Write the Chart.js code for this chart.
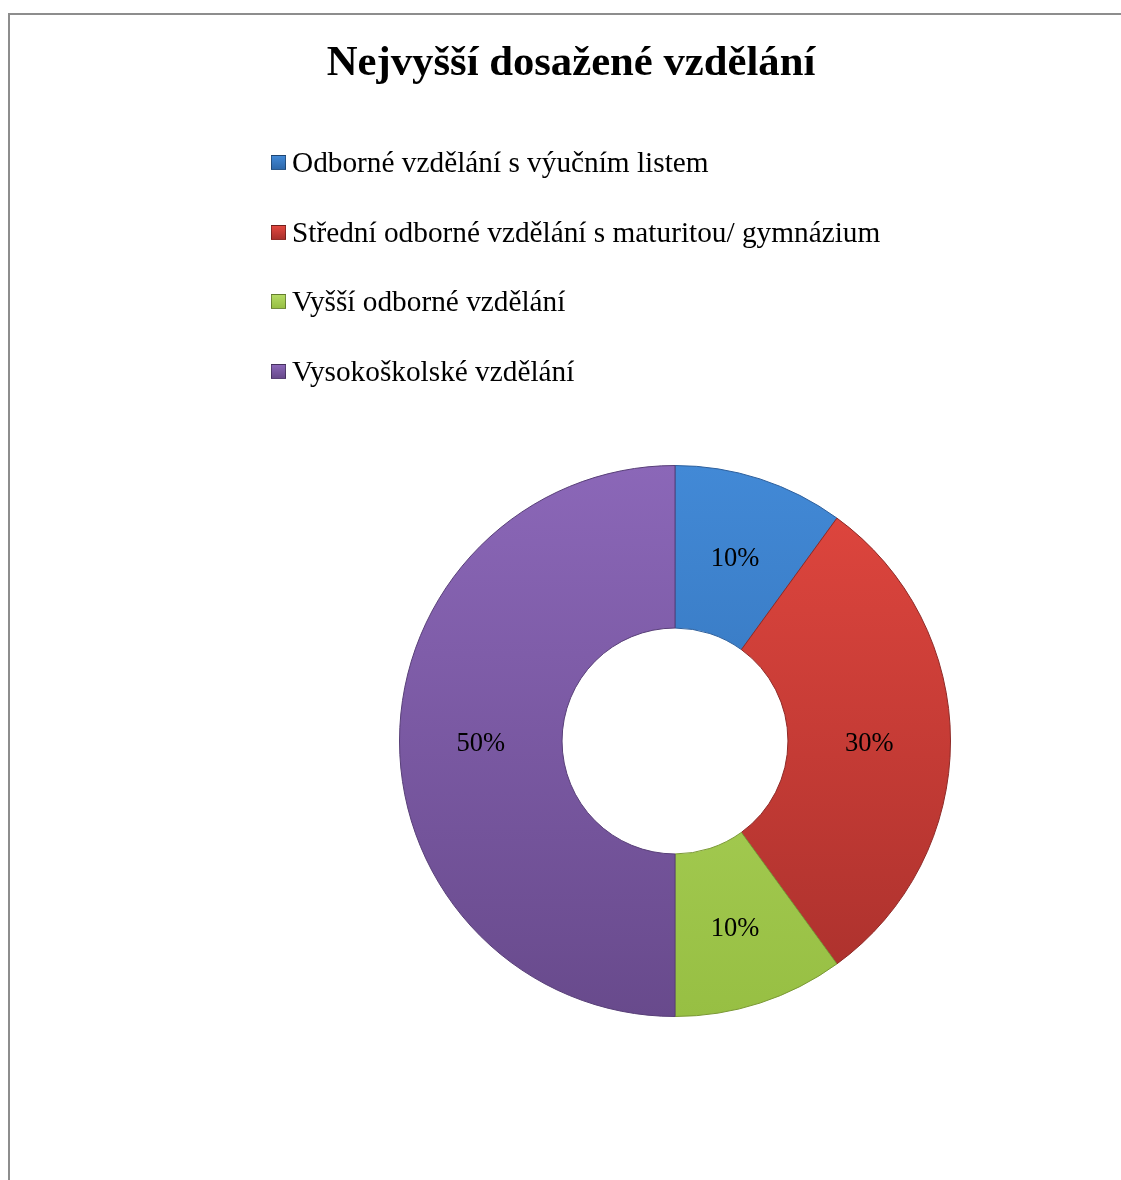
<!DOCTYPE html>
<html>
<head>
<meta charset="utf-8">
<script src="https://cdn.jsdelivr.net/npm/chart.js@4"></script>
<style>
  body { margin: 0; background: #fff; font-family: "Liberation Serif", "Times New Roman", serif; }
  #wrap { position: relative; width: 1121px; height: 1180px; overflow: hidden; }
  #ramecek { position: absolute; left: 8px; top: 13px; width: 1200px; height: 1300px;
    border-left: 2px solid #8d8d8d; border-top: 2px solid #8d8d8d; }
  #titulek { position: absolute; left: 0; width: 1142px; top: 38px; text-align: center;
    font-weight: bold; font-size: 42.7px; line-height: 1.1; color: #000; }
  #legenda { position: absolute; left: 271px; top: 143px; }
  .polozka { display: flex; align-items: center; height: 69.5px; font-size: 29.3px; color: #000; }
  .polozka span.box { width: 15px; height: 15px; margin-right: 6px; box-sizing: border-box; border: 1px solid rgba(0,0,0,0.35); }
  .polozka .radek { line-height: 1; margin-top: -30px; display: flex; align-items: center; }
  canvas { position: absolute; left: 0; top: 0; }
</style>
</head>
<body>
<div id="wrap">
  <div id="ramecek"></div>
  <canvas id="graf" width="1121" height="1180"></canvas>
  <div id="titulek">Nejvyšší dosažené vzdělání</div>
  <div id="legenda"></div>
</div>
<script>
// data
const kategorie = [
  "Odborné vzdělání s výučním listem",
  "Střední odborné vzdělání s maturitou/ gymnázium",
  "Vyšší odborné vzdělání",
  "Vysokoškolské vzdělání"
];
const hodnoty = [10, 30, 10, 50];
const barvySvetle = ["#4289d6", "#e2473f", "#b4da64", "#8b67b8"];
const barvyTmave = ["#2d68ab", "#a9302c", "#97bf43", "#684a8c"];
const barvyOkraj = ["#2d5f9c", "#8e2a27", "#7a9834", "#583f78"];

// legenda v HTML
const legenda = document.getElementById("legenda");
kategorie.forEach((nazev, i) => {
  const el = document.createElement("div");
  el.className = "polozka";
  el.innerHTML = `<div class="radek"><span class="box" style="background:linear-gradient(${barvySvetle[i]}, ${barvyTmave[i]});"></span>${nazev}</div>`;
  legenda.appendChild(el);
});

function prechod(ctx, i) {
  const chart = ctx.chart;
  const area = chart.chartArea;
  if (!area) return barvySvetle[i];
  const g = chart.ctx.createLinearGradient(0, area.top, 0, area.bottom);
  g.addColorStop(0, barvySvetle[i]);
  g.addColorStop(1, barvyTmave[i]);
  return g;
}

const popisky = {
  id: "popisky",
  afterDatasetsDraw(chart) {
    const ctx = chart.ctx;
    const meta = chart.getDatasetMeta(0);
    ctx.save();
    ctx.font = '26.5px "Liberation Serif", "Times New Roman", serif';
    ctx.fillStyle = "#000";
    ctx.textAlign = "center";
    ctx.textBaseline = "middle";
    meta.data.forEach((arc, i) => {
      const p = arc.tooltipPosition();
      ctx.fillText(hodnoty[i] + "%", p.x, p.y + 3);
    });
    ctx.restore();
  }
};

new Chart(document.getElementById("graf"), {
  type: "doughnut",
  data: {
    labels: kategorie,
    datasets: [{
      data: hodnoty,
      backgroundColor: ctx => prechod(ctx, ctx.dataIndex),
      borderColor: barvyOkraj,
      borderWidth: 1
    }]
  },
  options: {
    responsive: false,
    animation: false,
    cutout: "41%",
    layout: { padding: { left: 399, right: 170, top: 465, bottom: 163 } },
    plugins: {
      legend: { display: false },
      title: { display: false },
      tooltip: { enabled: false }
    }
  },
  plugins: [popisky]
});
</script>
</body>
</html>
